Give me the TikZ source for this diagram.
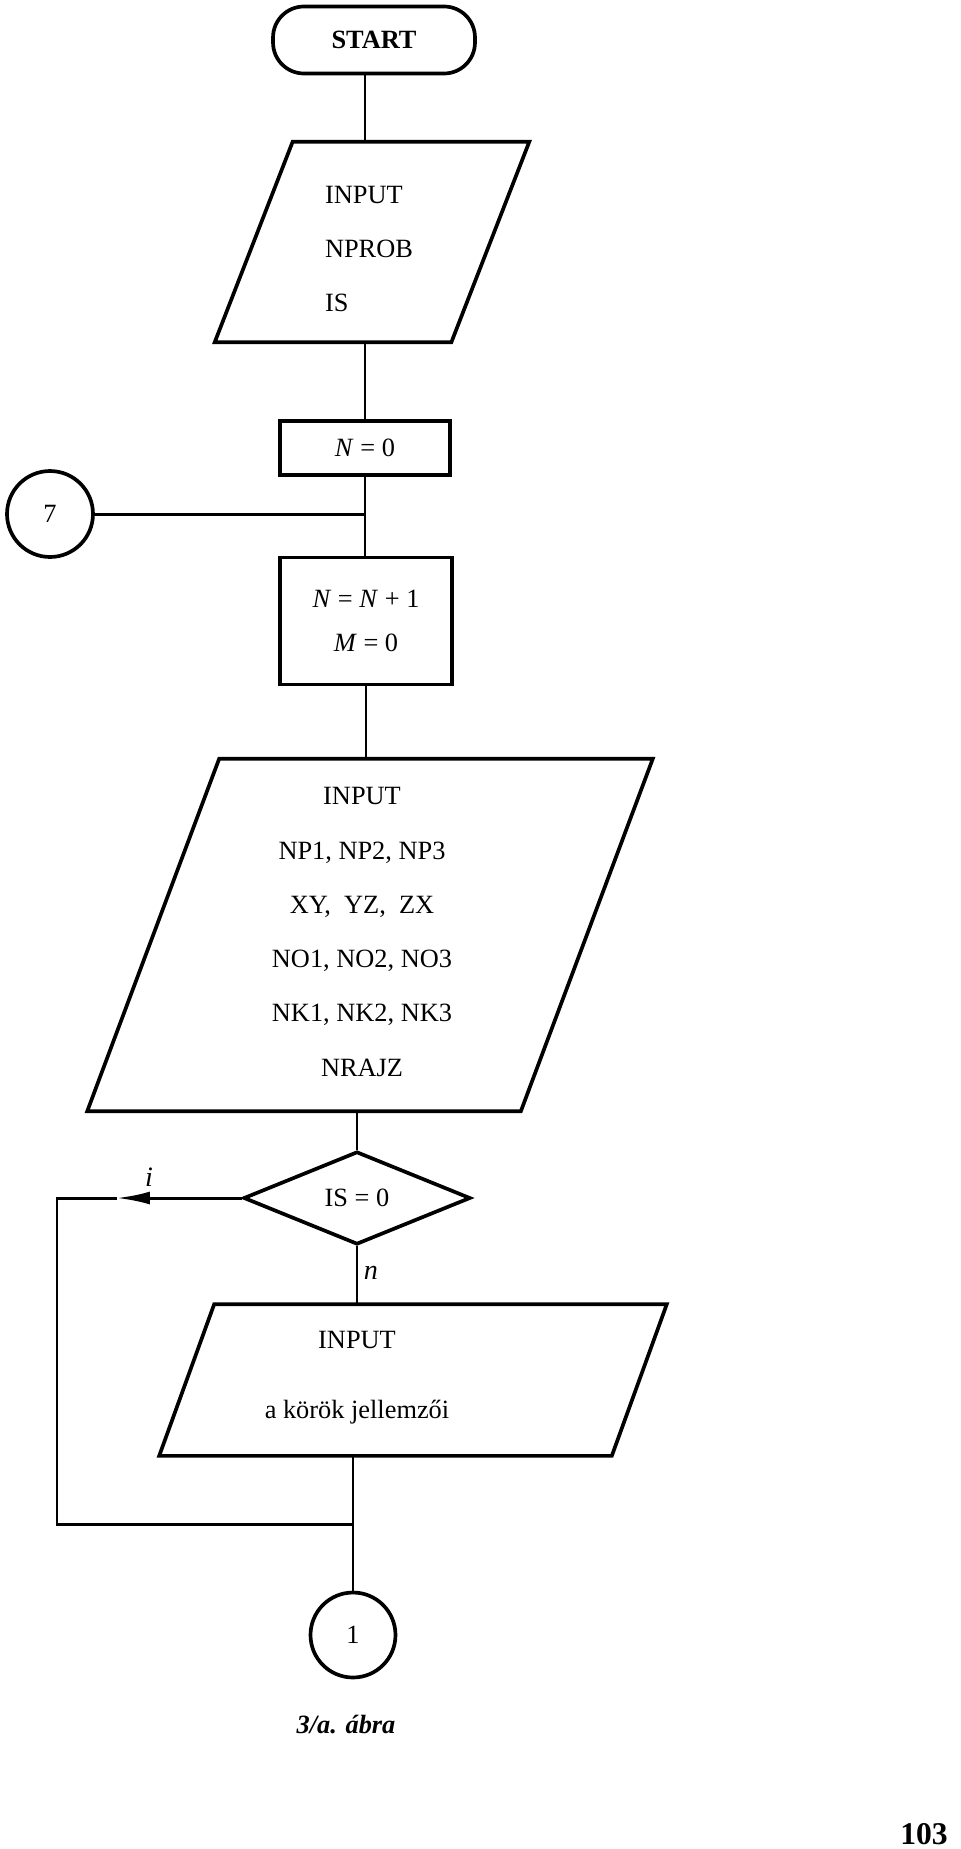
\documentclass[tikz,border=0pt]{standalone}
\usepackage{fontspec}
\setmainfont{Liberation Serif}
\usetikzlibrary{shapes.geometric,arrows.meta}

% slanted input/output outline round a (hidden) rectangle node
\newcommand{\ioshape}[2]{%
  \draw[line width=2.1pt,line join=miter]
    ([xshift=-#2]#1.south west) -- ([xshift=-#2]#1.south east) --
    ([xshift=#2]#1.north east) -- ([xshift=#2]#1.north west) -- cycle;}

\begin{document}
\begin{tikzpicture}[x=0.02cm,y=-0.02cm,
  every node/.style={font=\fontsize{15}{18}\selectfont},
  flow/.style={line width=1.7pt},
  box/.style={draw,line width=2.1pt,rectangle,inner sep=0pt},
  io/.style={rectangle,inner sep=0pt},
  conn/.style={draw,line width=2.1pt,circle,inner sep=0pt}]
\useasboundingbox (0,0) rectangle (960,1849);
% top part
\node[box,rounded corners=0.62cm,minimum width=4.04cm,minimum height=1.34cm,
  font=\fontsize{15}{18}\selectfont\bfseries] (start) at (374,40) {START};
\node[io,minimum width=4.72cm,minimum height=4cm] (in1) at (372,242) {};
\ioshape{in1}{0.78cm}
\node[align=left,font=\fontsize{15}{30.7}\selectfont] (in1txt) at (369,249)
  {INPUT\\NPROB\\IS};
\node[box,minimum width=3.4cm,minimum height=1.08cm] (n0) at (365,448) {\textit{N}~=~0};
\node[conn,minimum size=1.72cm] (c7) at (50,514) {7};
\node[box,minimum width=3.44cm,minimum height=2.54cm,align=center,
  font=\fontsize{15}{25}\selectfont] (n1) at (366,621)
  {\textit{N}~=~\textit{N}~+~1\\\textit{M}~=~0};
\node[io,minimum width=8.66cm,minimum height=7.04cm] (in2) at (370,935) {};
\ioshape{in2}{1.32cm}
\node[align=center,font=\fontsize{15}{30.9}\selectfont] (in2txt) at (362,932)
  {INPUT\\NP1, NP2, NP3\\XY,\ \ YZ,\ \ ZX\\NO1, NO2, NO3\\NK1, NK2, NK3\\NRAJZ};
% decision and loop
\node[draw,line width=2.1pt,diamond,inner sep=0pt,minimum width=4.54cm,
  minimum height=1.86cm] (dec) at (357,1198) {IS~=~0};
\node[io,minimum width=9.04cm,minimum height=3.02cm] (in3) at (413,1380) {};
\ioshape{in3}{0.55cm}
\node[align=center,font=\fontsize{15}{39.8}\selectfont] (in3txt) at (357,1378)
  {INPUT\\a körök jellemzői};
\node[conn,minimum size=1.7cm] (c1) at (353,1635) {1};
\coordinate (itip) at (117,1198);
\coordinate (corner) at (57,1198);
\coordinate (merge) at (353,1524);
\node (lbli) at (149,1177) {\fontsize{16}{18}\selectfont\textit{i}};
\node (lbln) at (371,1273) {\fontsize{16}{18}\selectfont\textit{n}};
% connectors
\draw[flow] (start.south -| n0) -- (n0 |- in1.north);
\draw[flow] (n0 |- in1.south) -- (n0);
\draw[flow] (n0) -- (n0 |- n1.north);
\draw[flow] (c7) -- (c7 -| n0);
\draw[flow] (n1) -- (n1 |- in2.north);
\draw[flow] (dec |- in2.south) -- (dec);
\draw[flow] (dec) -- (dec |- in3.north);
\draw[flow] (c1 |- in3.south) -- (c1);
\draw[flow,-{Latex[length=0.66cm,width=0.26cm]}] (dec.west) -- (itip);
\draw[flow] (itip) -- (corner) |- (merge);
% caption and page number
\node (capt) at (346,1725) {\bfseries\itshape 3/a. ábra};
\node (pageno) at (924,1834) {\fontsize{18}{20}\selectfont\bfseries 103};
\end{tikzpicture}
\end{document}
